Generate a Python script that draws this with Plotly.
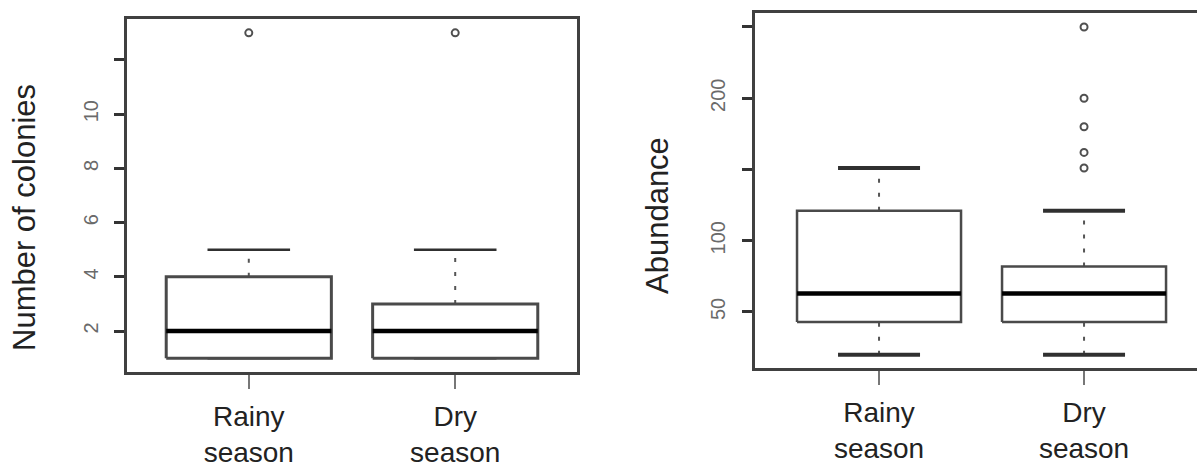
import plotly.graph_objects as go

# ---------------- data ----------------
categories = ["Rainy<br>season", "Dry<br>season"]

col_lower = [1, 1]
col_q1 = [1, 1]
col_median = [2, 2]
col_q3 = [4, 3]
col_upper = [5, 5]
col_outliers = [[13], [13]]
col_tickvals = [2, 4, 6, 8, 10, 12]
col_ticktext = ["2", "4", "6", "8", "10", ""]

ab_lower = [20, 20]
ab_q1 = [43, 43]
ab_median = [63, 63]
ab_q3 = [121, 82]
ab_upper = [151, 121]
ab_outliers = [[], [151, 162, 180, 200, 250]]
ab_tickvals = [50, 100, 150, 200, 250]
ab_ticktext = ["50", "100", "", "200", ""]

# ---------------- styling ----------------
FONT = "Liberation Sans, Arial, Helvetica, sans-serif"
FRAME = "#404040"
BOX_HALF = 0.4
CAP_HALF = 0.2

fig = go.Figure()


def add_boxes(xref, yref, lower, q1, med, q3, upper, outliers, cap_w, box_w):
    for i, _ in enumerate(categories):
        x = i + 1
        # dashed whiskers
        for a, b in ((q3[i], upper[i]), (lower[i], q1[i])):
            if b != a:
                fig.add_trace(go.Scatter(
                    x=[x, x], y=[a, b], mode="lines", xaxis=xref, yaxis=yref,
                    line=dict(color="#555555", width=2, dash="4px,10px"),
                    showlegend=False, hoverinfo="skip"))
        # caps
        for v in (upper[i], lower[i]):
            fig.add_trace(go.Scatter(
                x=[x - CAP_HALF, x + CAP_HALF], y=[v, v], mode="lines",
                xaxis=xref, yaxis=yref,
                line=dict(color="#303030", width=cap_w),
                showlegend=False, hoverinfo="skip"))
        # box
        fig.add_trace(go.Scatter(
            x=[x - BOX_HALF, x + BOX_HALF, x + BOX_HALF, x - BOX_HALF, x - BOX_HALF],
            y=[q1[i], q1[i], q3[i], q3[i], q1[i]],
            mode="lines", fill="toself", fillcolor="white",
            xaxis=xref, yaxis=yref,
            line=dict(color="#4a4a4a", width=box_w),
            showlegend=False, hoverinfo="skip"))
        # median
        fig.add_trace(go.Scatter(
            x=[x - BOX_HALF, x + BOX_HALF], y=[med[i], med[i]], mode="lines",
            xaxis=xref, yaxis=yref,
            line=dict(color="black", width=4.5),
            showlegend=False, hoverinfo="skip"))
        # outliers
        if outliers[i]:
            fig.add_trace(go.Scatter(
                x=[x] * len(outliers[i]), y=outliers[i], mode="markers",
                xaxis=xref, yaxis=yref,
                marker=dict(symbol="circle-open", size=7, color="#505050",
                            line=dict(width=2, color="#505050")),
                showlegend=False, hoverinfo="skip"))


add_boxes("x", "y", col_lower, col_q1, col_median, col_q3, col_upper,
          col_outliers, 2.5, 3)
add_boxes("x2", "y2", ab_lower, ab_q1, ab_median, ab_q3, ab_upper,
          ab_outliers, 4, 2.5)

W, H = 1197, 467

xcommon = dict(
    tickvals=[1, 2], ticktext=categories, ticks="outside", ticklen=14,
    tickwidth=1.5, tickcolor="#777777", showgrid=False, zeroline=False,
    showline=True, linecolor=FRAME, linewidth=3, mirror=True,
    tickfont=dict(family=FONT, size=28, color="#222222"),
    automargin=False, fixedrange=True, ticklabelstandoff=3,
)
ycommon = dict(
    ticks="outside", ticklen=10, tickwidth=3, tickcolor="#333333",
    showgrid=False, zeroline=False, showline=True, linecolor=FRAME,
    linewidth=3, tickangle=-90,
    tickfont=dict(family=FONT, size=20, color="#6a6a6a"),
    automargin=False, fixedrange=True,
)

fig.update_layout(
    width=W, height=H,
    margin=dict(l=0, r=0, t=0, b=0),
    paper_bgcolor="white", plot_bgcolor="white",
    showlegend=False,
    xaxis=dict(**xcommon, domain=[127 / W, 577 / W], range=[0.41, 2.59],
               anchor="y"),
    yaxis=dict(**ycommon, domain=[1 - 372 / H, 1 - 19 / H], range=[0.49, 13.51],
               tickvals=col_tickvals, ticktext=col_ticktext, mirror=True,
               anchor="x", ticklabelstandoff=8),
    xaxis2=dict(**xcommon, domain=[755 / W, 1.0], range=[0.395, 2.551],
                anchor="y2"),
    yaxis2=dict(**ycommon, domain=[1 - 368 / H, 1 - 13 / H],
                range=[10.7, 259.8], tickvals=ab_tickvals,
                ticktext=ab_ticktext, mirror=False, anchor="x2",
                ticklabelstandoff=9),
    annotations=[
        dict(text="Number of colonies", x=24 / W, y=1 - 218 / H,
             xref="paper", yref="paper", showarrow=False, textangle=-90,
             font=dict(family=FONT, size=31, color="#222222"),
             xanchor="center", yanchor="middle"),
        dict(text="Abundance", x=658 / W, y=1 - 216 / H,
             xref="paper", yref="paper", showarrow=False, textangle=-90,
             font=dict(family=FONT, size=31, color="#222222"),
             xanchor="center", yanchor="middle"),
    ],
)

fig.write_html(
    "out.html",
    config={"displayModeBar": False},
    post_script="document.body.style.margin='0px';"
                "document.body.style.overflow='hidden';",
)
